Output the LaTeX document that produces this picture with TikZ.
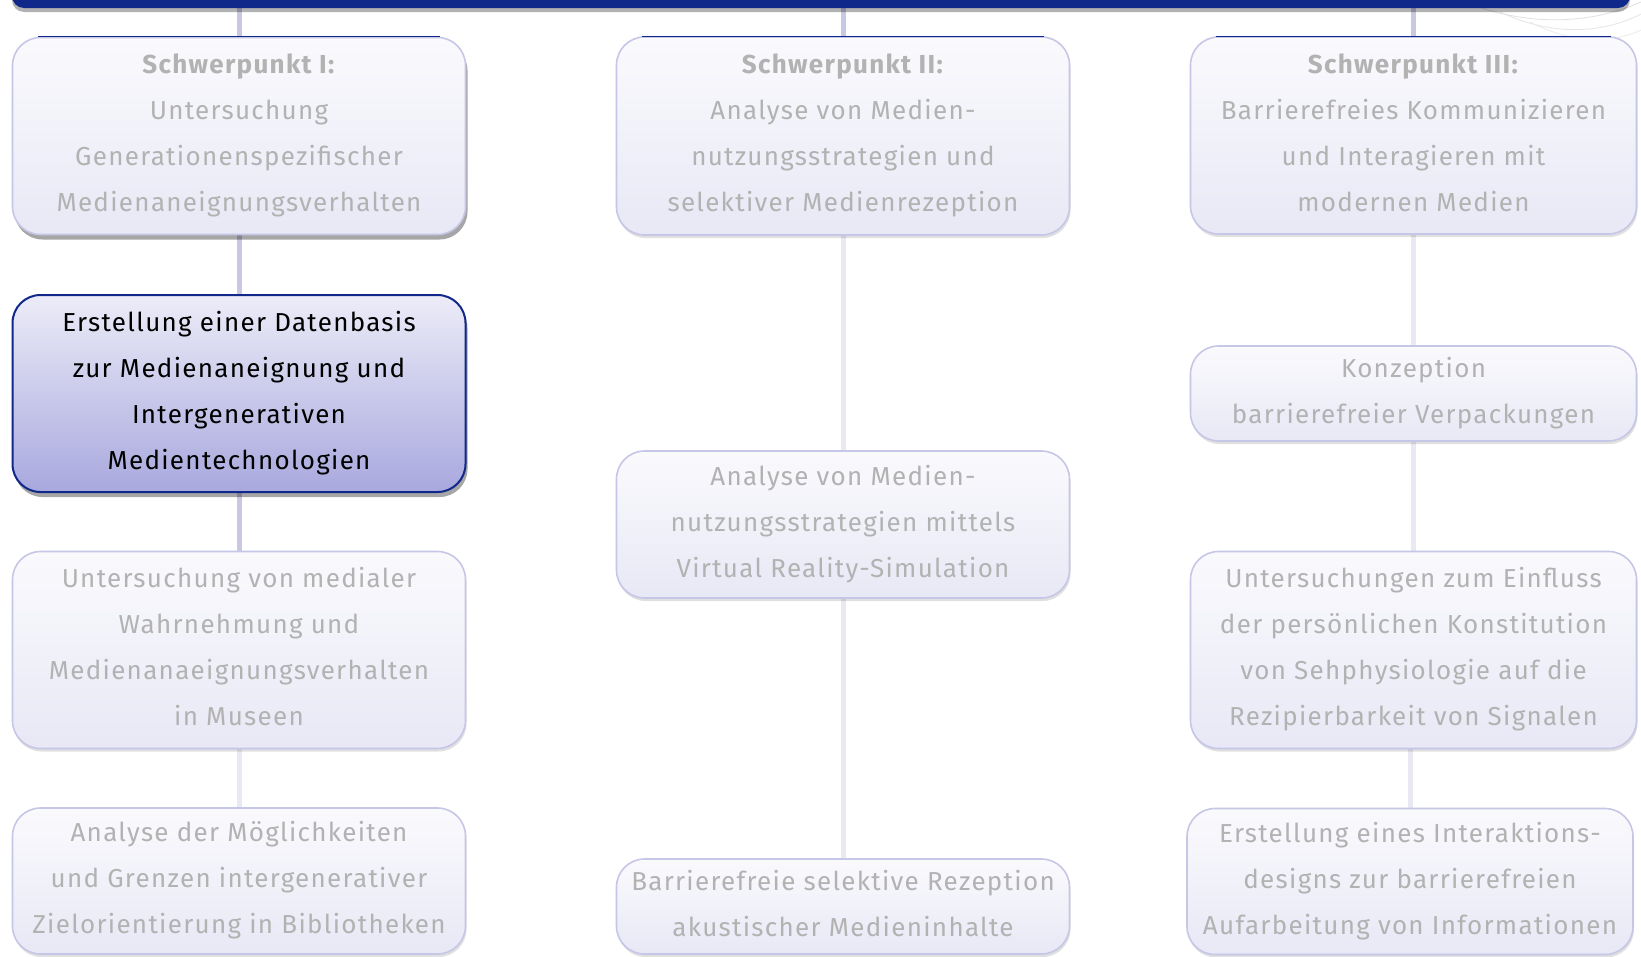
\documentclass[tikz,border=0pt]{standalone}
\usepackage{fontspec}
\setmainfont{Fira Sans}[LetterSpace=5]
\usetikzlibrary{shadows,backgrounds}
\definecolor{navy}{RGB}{16,40,138}
\definecolor{boxline}{RGB}{198,198,230}
\definecolor{fadetext}{RGB}{178,178,178}
\definecolor{boxtop}{RGB}{250,250,253}
\definecolor{boxbot}{RGB}{232,232,246}
\definecolor{hitop}{RGB}{236,236,248}
\definecolor{hibot}{RGB}{168,168,222}
\definecolor{linedark}{RGB}{200,200,226}
\definecolor{linelight}{RGB}{233,233,243}
\tikzset{
  box/.style={rectangle, rounded corners=28pt, draw=boxline, line width=1.6pt,
    top color=boxtop, bottom color=boxbot, align=center, text=fadetext,
    minimum width=453pt, inner sep=0pt,
    font=\fontsize{26}{46}\selectfont,
    execute at end node={\rule[-6.5pt]{0pt}{6.5pt}}},
  softshadow/.style={drop shadow={shadow xshift=1pt, shadow yshift=-3pt, opacity=0.12, fill=black}},
  hardshadow/.style={drop shadow={shadow xshift=2pt, shadow yshift=-5pt, opacity=0.35, fill=black}},
  hibox/.style={box, draw=navy, line width=2pt, top color=hitop, bottom color=hibot, text=black},
  barnode/.style={rectangle, rounded corners=12pt, fill=navy, inner sep=0pt,
    drop shadow={shadow xshift=0pt, shadow yshift=-4pt, opacity=0.3, fill=black}},
  conn/.style={line width=5pt, draw=linedark},
  connl/.style={line width=5pt, draw=linelight},
  topedge/.style={draw=navy, line width=1.4pt},
}
\begin{document}
\begin{tikzpicture}[x=1pt,y=1pt]
\useasboundingbox (0,0) rectangle (1641,-956);
% decorative swooshes
\draw[black!12, line width=0.8pt] (1470,-4) .. controls (1540,-30) and (1600,-20) .. (1641,-2);
\draw[black!10, line width=0.8pt] (1500,-12) .. controls (1560,-40) and (1610,-30) .. (1641,-14);
\draw[black!8, line width=0.8pt] (1530,-22) .. controls (1580,-48) and (1620,-40) .. (1641,-30);
% top bar
\node[barnode, minimum width=1618pt, minimum height=40pt] (bar) at (821,12) {};
% column 1
\node[box, hardshadow, minimum height=197pt] (s1) at (239,-136)
  {\textbf{Schwerpunkt I:}\\Untersuchung\\Generationenspezifischer\\Medienaneignungsverhalten};
\node[hibox, hardshadow, minimum height=197pt] (h) at (239,-393.5)
  {Erstellung einer Datenbasis\\zur Medienaneignung und\\Intergenerativen\\Medientechnologien};
\node[box, softshadow, minimum height=197pt] (c1b3) at (239,-650)
  {Untersuchung von medialer\\Wahrnehmung und\\Medienanaeignungsverhalten\\in Museen};
\node[box, softshadow, minimum height=146pt] (c1b4) at (239,-881)
  {Analyse der Möglichkeiten\\und Grenzen intergenerativer\\Zielorientierung in Bibliotheken};
% column 2
\node[box, softshadow, minimum height=198pt] (s2) at (843,-136)
  {\textbf{Schwerpunkt II:}\\Analyse von Medien-\\nutzungsstrategien und\\selektiver Medienrezeption};
\node[box, softshadow, minimum height=147pt] (c2b2) at (843,-524.5)
  {Analyse von Medien-\\nutzungsstrategien mittels\\Virtual Reality-Simulation};
\node[box, softshadow, minimum height=95pt] (c2b3) at (843,-906.5)
  {Barrierefreie selektive Rezeption\\akustischer Medieninhalte};
% column 3
\node[box, softshadow, minimum width=446pt, minimum height=197pt] (s3) at (1413.5,-135.5)
  {\textbf{Schwerpunkt III:}\\Barrierefreies Kommunizieren\\und Interagieren mit\\modernen Medien};
\node[box, softshadow, minimum width=446pt, minimum height=95pt] (c3b2) at (1413.5,-393.5)
  {Konzeption\\barrierefreier Verpackungen};
\node[box, softshadow, minimum width=446pt, minimum height=197pt] (c3b3) at (1413.5,-650)
  {Untersuchungen zum Einfluss\\der persönlichen Konstitution\\von Sehphysiologie auf die\\Rezipierbarkeit von Signalen};
\node[box, softshadow, minimum width=446pt, minimum height=146pt] (c3b4) at (1410,-881.5)
  {Erstellung eines Interaktions-\\designs zur barrierefreien\\Aufarbeitung von Informationen};
% navy top edges of the Schwerpunkt boxes
\foreach \n in {s1,s2,s3}{
  \draw[topedge] ([xshift=26pt]\n.north west) -- ([xshift=-26pt]\n.north east);
}
% connectors
\begin{scope}[on background layer]
\fill[white] (0,0) rectangle (1641,-956);
\draw[conn] (s1.north) -- (s1.north |- bar.south);
\draw[conn] (s1.south) -- (h.north);
\draw[conn] (h.south) -- (c1b3.north);
\draw[connl] (c1b3.south) -- (c1b4.north);
\draw[conn] (s2.north) -- (s2.north |- bar.south);
\draw[connl] (s2.south) -- (c2b2.north);
\draw[connl] (c2b2.south) -- (c2b3.north);
\draw[conn] (s3.north) -- (s3.north |- bar.south);
\draw[connl] (s3.south) -- (c3b2.north);
\draw[connl] (c3b2.south) -- (c3b3.north);
\draw[connl] (c3b4.north) -- (c3b4.north |- c3b3.south);
\end{scope}
\end{tikzpicture}
\end{document}
